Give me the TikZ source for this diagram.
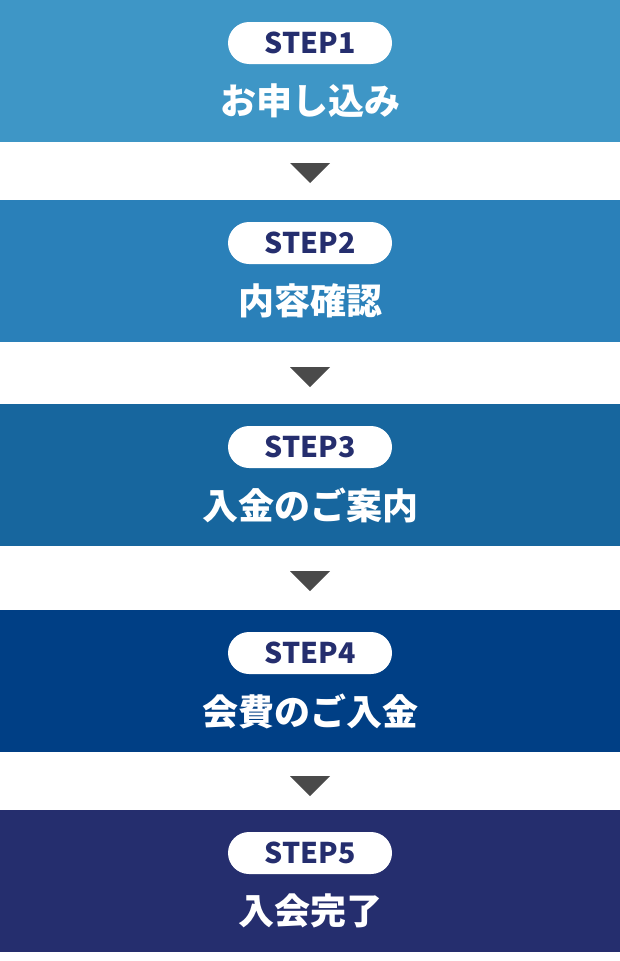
\documentclass[tikz,border=0pt]{standalone}
\usepackage{fontspec}
\newfontfamily\cjk{Noto Sans CJK JP}
\definecolor{cA}{HTML}{3E96C6}
\definecolor{cB}{HTML}{2A80B9}
\definecolor{cC}{HTML}{17669E}
\definecolor{cD}{HTML}{003F85}
\definecolor{cE}{HTML}{252E6E}
\definecolor{tri}{HTML}{4A4A4A}
\begin{document}
\begin{tikzpicture}[x=1pt,y=-1pt,
  pill/.style={fill=white,rounded corners=21pt,minimum width=164pt,minimum height=42pt,inner sep=0pt,text=cE,font=\cjk\bfseries\fontsize{28.5}{28.5}\selectfont},
  title/.style={text=white,inner sep=0pt,font=\cjk\bfseries\fontsize{36}{36}\selectfont},
  arrowtri/.style={fill=tri}]
\useasboundingbox (0,0) rectangle (620,961);
\fill[white] (0,0) rectangle (620,961);
\foreach \t/\c/\s/\n in {0/cA/1/お申し込み,200/cB/2/内容確認,404/cC/3/入金のご案内,610/cD/4/会費のご入金,810/cE/5/入会完了}{
  \fill[\c] (0,\t) rectangle (620,\t+142);
  \node[pill] (p\s) at (310,\t+43) {STEP\s};
  \node[title] (t\s) at (310,\t+101) {\n};
}
\foreach \y in {163,367,571,776}{
  \fill[arrowtri] (290,\y) -- (330,\y) -- (310,\y+20) -- cycle;
}
\end{tikzpicture}
\end{document}
